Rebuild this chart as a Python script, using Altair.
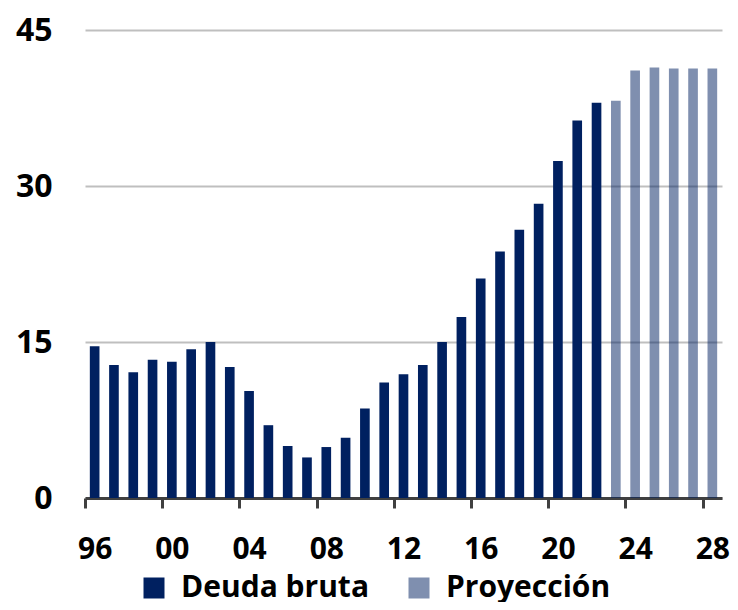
import altair as alt
import pandas as pd

# Data
hist_years = [1996, 1997, 1998, 1999, 2000, 2001, 2002, 2003, 2004, 2005,
              2006, 2007, 2008, 2009, 2010, 2011, 2012, 2013, 2014, 2015,
              2016, 2017, 2018, 2019, 2020, 2021, 2022]
hist_values = [14.6, 12.8, 12.1, 13.3, 13.1, 14.3, 15.0, 12.6, 10.3, 7.0,
               5.0, 3.9, 4.9, 5.8, 8.6, 11.1, 11.9, 12.8, 15.0, 17.4,
               21.1, 23.7, 25.8, 28.3, 32.4, 36.3, 38.0]
proj_years = [2023, 2024, 2025, 2026, 2027, 2028]
proj_values = [38.2, 41.1, 41.4, 41.3, 41.3, 41.3]
series_names = ["Deuda bruta", "Proyección"]
x_tick_years = [1996, 2000, 2004, 2008, 2012, 2016, 2020, 2024, 2028]
y_ticks = [0, 15, 30, 45]

df = pd.DataFrame({
    "year": hist_years + proj_years,
    "value": hist_values + proj_values,
    "serie": [series_names[0]] * len(hist_years) + [series_names[1]] * len(proj_years),
})

FONT = "Open Sans"
PLOT_W = 637
HALF_STEP = PLOT_W / (len(df)) / 2

chart = alt.Chart(df).mark_bar().encode(
    x=alt.X("year:O", sort=None,
            scale=alt.Scale(paddingInner=0.5, paddingOuter=0.25),
            axis=alt.Axis(values=x_tick_years, title=None,
                          tickOffset=-HALF_STEP, labelOffset=HALF_STEP,
                          labelExpr="slice('0' + (datum.value % 100), -2)",
                          labelAngle=0, labelFont=FONT, labelFontSize=30,
                          labelFontWeight="bold", labelColor="#000000",
                          labelPadding=26, tickSize=10, tickWidth=3,
                          tickColor="#404040", domainColor="#404040",
                          domainWidth=3, grid=False)),
    y=alt.Y("value:Q",
            scale=alt.Scale(domain=[0, 45], nice=False),
            axis=alt.Axis(values=y_ticks, title=None, domain=False, ticks=False,
                          tickSize=0, labelPadding=33, labelFont=FONT,
                          labelFontSize=32, labelFontWeight="bold",
                          labelColor="#000000", gridColor="#BFBFBF",
                          gridWidth=2)),
    color=alt.Color("serie:N",
                    scale=alt.Scale(domain=series_names, range=["#002060", "#002060"]),
                    legend=alt.Legend(title=None, orient="none", direction="horizontal",
                                      legendX=54, legendY=543,
                                      symbolType="square", symbolSize=441,
                                      symbolStrokeWidth=0,
                                      labelFont=FONT, labelFontSize=30,
                                      labelFontWeight="bold", labelColor="#000000",
                                      labelOffset=12, columnPadding=34,
                                      labelLimit=400, padding=0)),
    opacity=alt.Opacity("serie:N",
                        scale=alt.Scale(domain=series_names, range=[1.0, 0.5]),
                        legend=alt.Legend(title=None)),
).properties(
    width=PLOT_W,
    height=468,
    autosize=alt.AutoSizeParams(type="none"),
    padding={"left": 77, "top": 22, "right": 8, "bottom": 104},
).configure_view(
    stroke=None
)

chart.save("out.html", embed_options={"renderer": "svg", "actions": False})
